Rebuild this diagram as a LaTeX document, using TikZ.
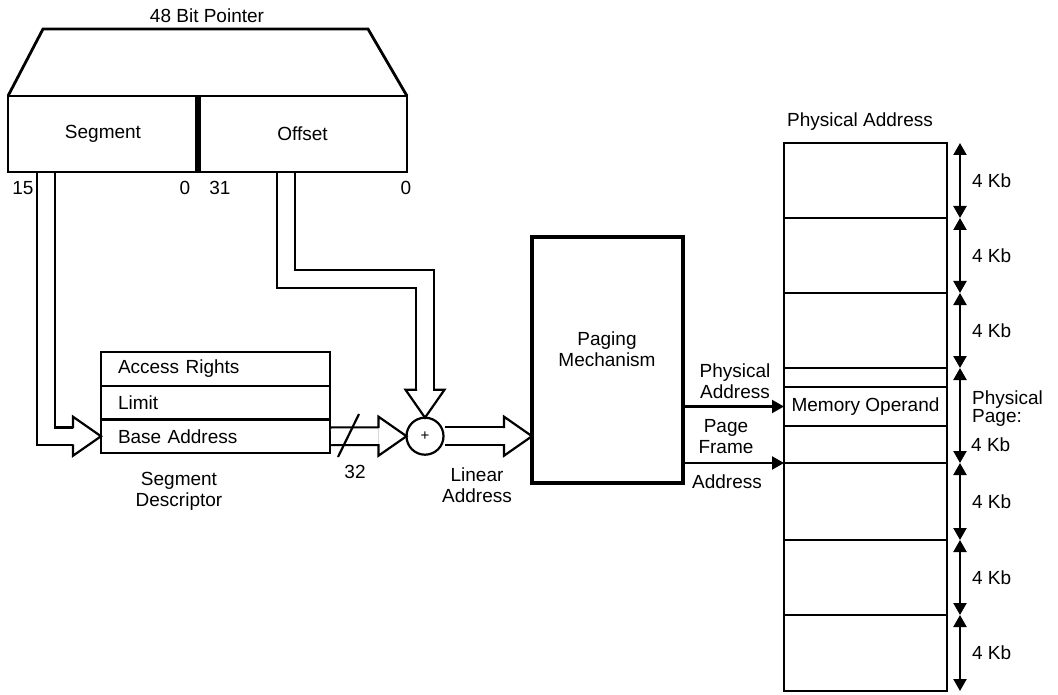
\documentclass[tikz,border=0pt]{standalone}
\usepackage{fontspec}
\setmainfont{Liberation Sans}
\usetikzlibrary{arrows.meta,positioning}

\begin{document}
\begin{tikzpicture}[x=1pt,y=-1pt,font=\fontsize{19}{21}\selectfont]
\tikzset{
  plainlabel/.style={inner sep=0pt,align=center},
  ptrbox/.style={draw=black,line width=2.6pt,minimum height=76pt,inner sep=0pt,outer sep=0pt},
  descrow/.style={draw=black,line width=2.2pt,minimum height=33.7pt,text width=195pt,inner xsep=17pt,inner ysep=0pt,outer sep=0pt,align=left},
  memcell/.style={draw=black,line width=2.4pt,minimum width=163pt,inner sep=0pt,outer sep=0pt},
  hollow/.style={draw=black,line width=2.2pt,double=white,double distance=15.5pt,line join=miter,shorten <=1pt,shorten >=28pt},
  hollowtip/.pic={\filldraw[fill=white,draw=black,line width=2.2pt,line join=miter] (-28,8) -- (-28,19.5) -- (0,0) -- (-28,-19.5) -- (-28,-8);},
  solidarrow/.style={draw=black,line width=2.2pt,-{Triangle[length=12pt,width=13pt]}},
  sizearrow/.style={draw=black,line width=2.2pt,{Triangle[length=12pt,width=13pt]}-{Triangle[length=12pt,width=13pt]}}
}
\useasboundingbox (0,0) rectangle (1058,695);
\node[plainlabel] (ptrtitle) at (207,16) {48 Bit Pointer};
\node[ptrbox,minimum width=190pt] (seg) at (103,134) {Segment};
\node[ptrbox,minimum width=209pt] (off) at (302.5,134) {Offset};
\draw[line width=2.8pt,line join=miter] (seg.north west) -- (43,29) -- (368,29) -- (off.north east);
\draw[line width=5.5pt] (seg.north east) -- (seg.south east);
\node[plainlabel] (bit15) at (23,188) {15};
\node[plainlabel] (bit0a) at (185,188) {0};
\node[plainlabel] (bit31) at (220,188) {31};
\node[plainlabel] (bit0b) at (406,188) {0};
\node[descrow] (access) at (215.5,368.85) {Access Rights};
\node[descrow,below=0pt of access] (limit) {Limit};
\node[descrow,below=0pt of limit] (base) {Base Address};
\node[plainlabel] (desclabel) at (179,491) {Segment\\Descriptor};
\node[draw=black,circle,line width=2.2pt,minimum size=37pt,inner sep=0pt,outer sep=0pt,font=\fontsize{15}{15}\selectfont] (adder) at (425,436.2) {+};
\node[draw=black,line width=3.8pt,minimum width=151pt,minimum height=246pt,outer sep=0pt] (paging) at (607.5,360) {};
\node[plainlabel] (pagingtext) at (607,349.5) {Paging\\Mechanism};
\node[plainlabel] (width32) at (355,472) {32};
\node[plainlabel] (linear) at (477,485) {Linear\\Address};
\draw[hollow] ([xshift=38pt]seg.south west) |- (base.west);
\pic at (base.west) {hollowtip};
\draw[hollow] ([xshift=88pt]off.south west) -- ++(0,107) -| (adder.north);
\pic[rotate=-90] at (adder.north) {hollowtip};
\draw[hollow] (base.east) -- (adder.west);
\pic at (adder.west) {hollowtip};
\draw[hollow] (adder.east) -- (adder.east -| paging.west);
\pic at (adder.east -| paging.west) {hollowtip};
\draw[line width=2.2pt] (338,457) -- (359,414);
\node[plainlabel] (memtitle) at (860,122) {Physical Address};
\node[memcell,minimum height=75pt] (pg1) at (865.5,180.5) {};
\node[memcell,minimum height=75pt,below=0pt of pg1] (pg2) {};
\node[memcell,minimum height=75pt,below=0pt of pg2] (pg3) {};
\node[memcell,minimum height=19pt,below=0pt of pg3] (pgtop) {};
\node[memcell,minimum height=39pt,below=0pt of pgtop] (memop) {Memory Operand};
\node[memcell,minimum height=37pt,below=0pt of memop] (pgbot) {};
\node[memcell,minimum height=77pt,below=0pt of pgbot] (pg5) {};
\node[memcell,minimum height=75pt,below=0pt of pg5] (pg6) {};
\node[memcell,minimum height=76pt,below=0pt of pg6] (pg7) {};
\draw[solidarrow] (paging.east |- memop.west) -- (memop.west);
\draw[solidarrow] (paging.east |- pgbot.south west) -- (pgbot.south west);
\node[plainlabel] (physaddr) at (735,381) {Physical\\Address};
\node[plainlabel] (pageframe) at (726,437) {Page\\Frame};
\node[plainlabel] (frameaddr) at (727,482) {Address};
\draw[sizearrow] ([xshift=13pt]pg1.north east) -- node[plainlabel,right=11pt] {4 Kb} ([xshift=13pt]pg1.south east);
\draw[sizearrow] ([xshift=13pt]pg2.north east) -- node[plainlabel,right=11pt] {4 Kb} ([xshift=13pt]pg2.south east);
\draw[sizearrow] ([xshift=13pt]pg3.north east) -- node[plainlabel,right=11pt] {4 Kb} ([xshift=13pt]pg3.south east);
\draw[sizearrow] ([xshift=13pt]pgtop.north east) -- ([xshift=13pt]pgbot.south east);
\draw[sizearrow] ([xshift=13pt]pg5.north east) -- node[plainlabel,right=11pt] {4 Kb} ([xshift=13pt]pg5.south east);
\draw[sizearrow] ([xshift=13pt]pg6.north east) -- node[plainlabel,right=11pt] {4 Kb} ([xshift=13pt]pg6.south east);
\draw[sizearrow] ([xshift=13pt]pg7.north east) -- node[plainlabel,right=11pt] {4 Kb} ([xshift=13pt]pg7.south east);
\node[plainlabel,anchor=west,align=left,font=\fontsize{19}{18}\selectfont] (physpage) at (972,409) {Physical\\Page:};
\node[plainlabel,anchor=west] (physkb) at (971,445) {4 Kb};
\end{tikzpicture}
\end{document}
